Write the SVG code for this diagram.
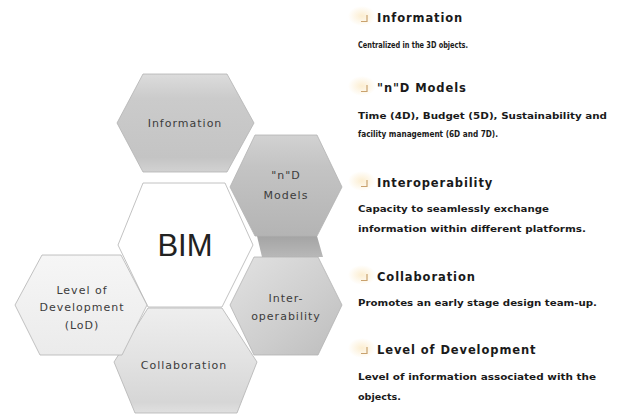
<svg xmlns="http://www.w3.org/2000/svg" width="624" height="420" viewBox="0 0 624 420">
<defs>
<linearGradient id="gInfo" x1="0" y1="0" x2="0" y2="1">
<stop offset="0" stop-color="#dcdcdc"/><stop offset="0.25" stop-color="#cbcbcb"/><stop offset="0.85" stop-color="#c4c4c4"/><stop offset="1" stop-color="#d2d2d2"/>
</linearGradient>
<linearGradient id="gND" x1="0" y1="0" x2="0" y2="1">
<stop offset="0" stop-color="#d2d2d2"/><stop offset="0.3" stop-color="#c4c4c4"/><stop offset="1" stop-color="#b4b4b4"/>
</linearGradient>
<linearGradient id="gBand" x1="0" y1="0" x2="0" y2="1">
<stop offset="0" stop-color="#a4a4a4"/><stop offset="1" stop-color="#b8b8b8"/>
</linearGradient>
<linearGradient id="gInter" x1="0" y1="0" x2="1" y2="1">
<stop offset="0" stop-color="#e2e2e2"/><stop offset="0.6" stop-color="#cdcdcd"/><stop offset="1" stop-color="#bdbdbd"/>
</linearGradient>
<linearGradient id="gLoD" x1="0" y1="0" x2="0" y2="1">
<stop offset="0" stop-color="#f6f6f6"/><stop offset="1" stop-color="#ebebeb"/>
</linearGradient>
<linearGradient id="gCollab" x1="0" y1="0" x2="0" y2="1">
<stop offset="0" stop-color="#eeeeee"/><stop offset="0.5" stop-color="#e2e2e2"/><stop offset="0.9" stop-color="#d6d6d6"/><stop offset="1" stop-color="#e0e0e0"/>
</linearGradient>
<radialGradient id="gGlow" cx="0.5" cy="0.5" r="0.5">
<stop offset="0" stop-color="#fbe9c4" stop-opacity="0.8"/><stop offset="1" stop-color="#fbe9c4" stop-opacity="0"/>
</radialGradient>
</defs>
<style>
.hex{stroke:#b3b3b3;stroke-width:0.8}
.lbl{font-family:"DejaVu Sans",Verdana,sans-serif;font-size:11px;letter-spacing:1px;fill:#3c3c3c;text-anchor:middle}
.bim{font-family:"Liberation Sans",Arial,sans-serif;font-size:31px;fill:#222;text-anchor:middle}
.hd{font-family:"DejaVu Sans",Verdana,sans-serif;font-weight:bold;font-size:11.5px;letter-spacing:0.9px;fill:#1a1a1a}
.bd{font-family:"DejaVu Sans",Verdana,sans-serif;font-weight:bold;font-size:9px;fill:#1a1a1a}
.bul{fill:none;stroke:#c9a26e;stroke-width:1.2}
</style>
<rect width="624" height="420" fill="#ffffff"/>

<g id="connectors"></g>

<polygon points="257,236 317,236 323,257 262,257" fill="url(#gBand)"/>

<g id="node-information">
<polygon class="hex" points="143,74 227,74 254,123 227,172 143,172 117,123" fill="url(#gInfo)"/>
<text class="lbl" x="185" y="127">Information</text>
</g>

<g id="node-nd-models">
<polygon class="hex" points="255,135 317,135 342,187 317,236 255,236 230,187" fill="url(#gND)"/>
<text class="lbl" x="286" y="179">"n"D</text>
<text class="lbl" x="286" y="199">Models</text>
</g>

<g id="node-interoperability">
<polygon class="hex" points="254,257 318,257 342,305 318,355 254,355 230,305" fill="url(#gInter)"/>
<text class="lbl" x="286" y="302">Inter-</text>
<text class="lbl" x="286" y="320">operability</text>
</g>

<g id="node-bim">
<polygon class="hex" points="143,183 225,183 253,245 222,307 148,307 118,245" fill="#ffffff" stroke="#bdbdbd"/>
<text class="bim" x="185" y="256">BIM</text>
</g>

<g id="node-collaboration">
<polygon class="hex" points="148,308 222,308 257,362 237,413 135,413 114,362" fill="url(#gCollab)"/>
<text class="lbl" x="184" y="369">Collaboration</text>
</g>

<g id="node-lod">
<polygon class="hex" points="42,255 121,255 147,305 122,355 40,355 15,305" fill="url(#gLoD)"/>
<text class="lbl" x="82" y="294">Level of</text>
<text class="lbl" x="82" y="311">Development</text>
<text class="lbl" x="82" y="329">(LoD)</text>
</g>

<g id="legend">
<g id="legend-information">
<ellipse cx="362" cy="16" rx="14" ry="10" fill="url(#gGlow)"/>
<path class="bul" d="M361,21.5 H367 V15"/>
<text class="hd" x="377" y="22">Information</text>
<text class="bd" x="358" y="47.5" textLength="110" lengthAdjust="spacingAndGlyphs">Centralized in the 3D objects.</text>
</g>
<g id="legend-nd-models">
<ellipse cx="362" cy="86" rx="14" ry="10" fill="url(#gGlow)"/>
<path class="bul" d="M361,91.5 H367 V85"/>
<text class="hd" x="377" y="92">"n"D Models</text>
<text class="bd" x="358" y="119" textLength="249" lengthAdjust="spacingAndGlyphs">Time (4D), Budget (5D), Sustainability and</text>
<text class="bd" x="358" y="137" textLength="140" lengthAdjust="spacingAndGlyphs">facility management (6D and 7D).</text>
</g>
<g id="legend-interoperability">
<ellipse cx="362" cy="181" rx="14" ry="10" fill="url(#gGlow)"/>
<path class="bul" d="M361,186.5 H367 V180"/>
<text class="hd" x="377" y="187">Interoperability</text>
<text class="bd" x="358" y="212" textLength="191" lengthAdjust="spacingAndGlyphs">Capacity to seamlessly exchange</text>
<text class="bd" x="358" y="232" textLength="228" lengthAdjust="spacingAndGlyphs">information within different platforms.</text>
</g>
<g id="legend-collaboration">
<ellipse cx="362" cy="275" rx="14" ry="10" fill="url(#gGlow)"/>
<path class="bul" d="M361,280.5 H367 V274"/>
<text class="hd" x="377" y="281">Collaboration</text>
<text class="bd" x="358" y="306" textLength="239" lengthAdjust="spacingAndGlyphs">Promotes an early stage design team-up.</text>
</g>
<g id="legend-lod">
<ellipse cx="362" cy="348" rx="14" ry="10" fill="url(#gGlow)"/>
<path class="bul" d="M361,353.5 H367 V347"/>
<text class="hd" x="377" y="354">Level of Development</text>
<text class="bd" x="358" y="380" textLength="238" lengthAdjust="spacingAndGlyphs">Level of information associated with the</text>
<text class="bd" x="358" y="400" textLength="43" lengthAdjust="spacingAndGlyphs">objects.</text>
</g>
</g>
</svg>
